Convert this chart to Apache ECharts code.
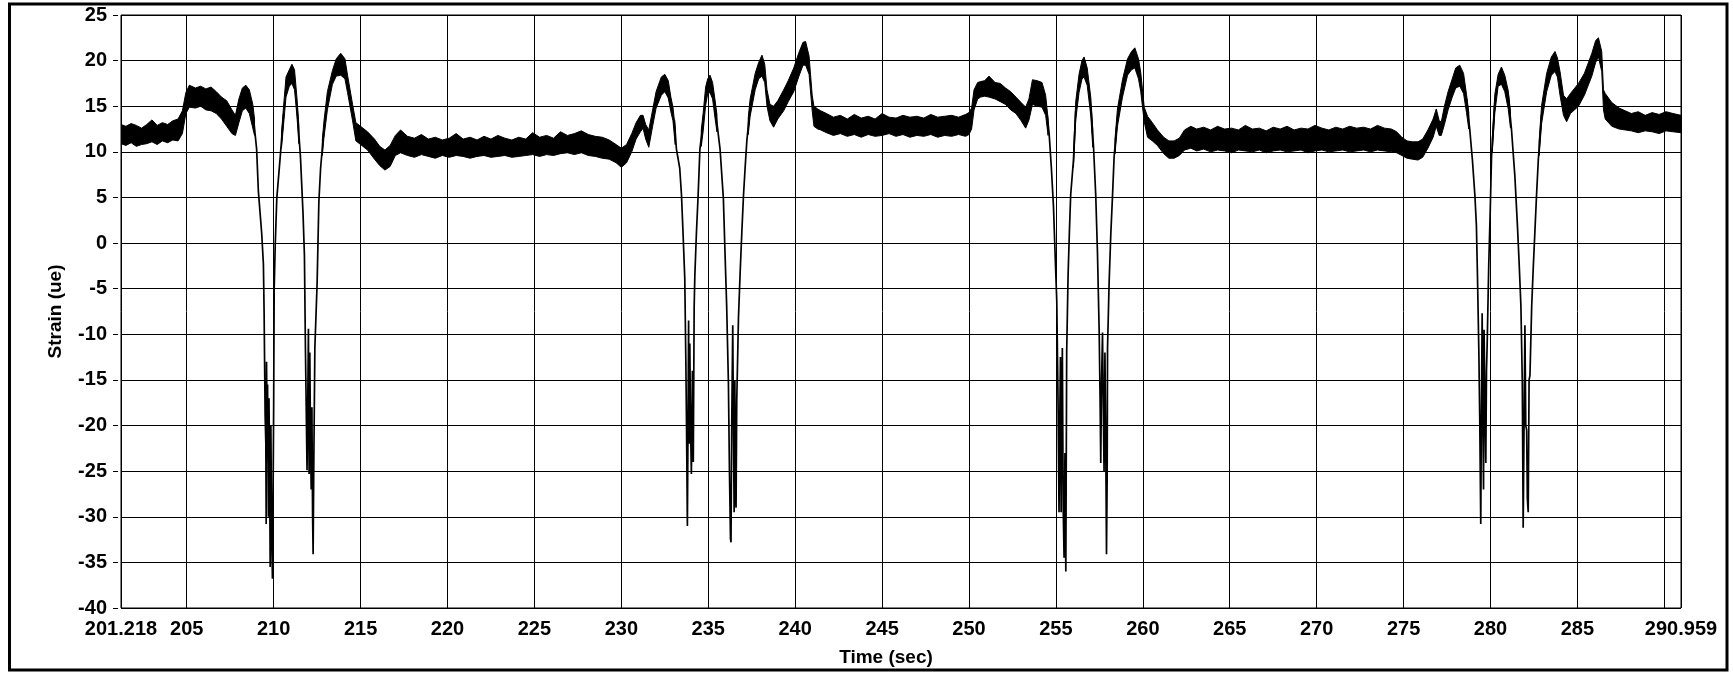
<!DOCTYPE html>
<html>
<head>
<meta charset="utf-8">
<script src="https://cdn.jsdelivr.net/npm/echarts/dist/echarts.min.js"></script>
<style>
html,body{margin:0;padding:0;background:#fff;}
#chart{width:1733px;height:673px;}
</style>
</head>
<body>
<div id="chart"></div>
<script>
// ---- tick labels ----
const xTickValues = [201.218, 205, 210, 215, 220, 225, 230, 235, 240, 245, 250, 255, 260, 265, 270, 275, 280, 285, 290, 290.959];
const yMin = -40, yMax = 25, yStep = 5;

// ---- noisy band envelope (time, upper, lower); null separates segments ----
const bandTime = [
201.218,201.5,201.8,202.1,202.4,202.7,203.0,203.3,203.6,203.9,204.2,204.5,204.75,204.95,205.15,205.5,205.8,206.1,206.4,206.7,207.0,207.3,207.6,207.8,208.0,208.2,208.4,208.6,208.8,208.9,
null,
210.45,210.57,210.71,210.9,211.05,211.2,211.34,211.45,
null,
212.8,212.89,213.09,213.38,213.6,213.86,214.1,214.25,214.54,214.73,215.0,215.4,215.8,216.1,216.4,216.7,217.0,217.3,217.7,218.1,218.5,218.9,219.3,219.7,220.1,220.5,220.9,221.3,221.7,222.1,222.5,222.9,223.3,223.7,224.1,224.5,224.9,225.3,225.7,226.1,226.5,226.9,227.3,227.7,228.1,228.5,228.9,229.3,229.7,230.0,230.3,230.6,230.85,231.1,231.25,231.4,231.58,231.8,232.0,232.3,232.5,232.7,232.85,232.97,233.1,
null,
234.6,234.71,234.85,234.97,235.1,235.25,235.39,235.5,
null,
237.3,237.41,237.7,237.9,238.09,238.25,238.38,238.55,238.76,239.0,239.34,239.6,239.92,240.2,240.45,240.6,240.8,240.98,241.08,241.3,241.47,241.8,242.2,242.6,243.0,243.4,243.8,244.2,244.6,245.0,245.4,245.8,246.2,246.6,247.0,247.4,247.8,248.2,248.6,249.0,249.4,249.8,250.0,250.15,250.29,250.5,250.67,250.9,251.15,251.5,251.8,252.1,252.4,252.7,253.0,253.26,253.45,253.65,253.93,254.2,254.41,254.55,
null,
256.01,256.14,256.33,256.5,256.62,256.8,257.01,257.12,
null,
258.4,258.54,258.83,259.12,259.35,259.54,259.75,259.88,260.08,260.27,260.55,260.84,261.2,261.5,261.8,262.1,262.4,262.76,263.1,263.5,263.9,264.3,264.7,265.1,265.5,265.9,266.3,266.7,267.1,267.5,267.9,268.3,268.7,269.1,269.5,269.9,270.3,270.7,271.1,271.5,271.9,272.3,272.7,273.1,273.5,273.9,274.3,274.6,274.9,275.2,275.5,275.83,276.1,276.4,276.7,276.88,277.05,277.17,277.35,277.56,277.8,278.0,278.23,278.45,278.62,278.75,
null,
280.1,280.25,280.44,280.63,280.82,281.02,281.15,
null,
282.8,282.94,283.23,283.5,283.71,283.85,284.0,284.2,284.38,284.6,285.06,285.4,285.83,286.05,286.21,286.4,286.5,286.6,286.98,287.4,287.75,288.1,288.5,288.9,289.3,289.7,290.1,290.5,290.959
];
const bandHigh = [
13.0,12.8,13.1,12.9,12.6,13.0,13.5,12.9,13.2,13.0,13.4,13.6,14.5,16.5,17.3,17.0,17.2,16.9,17.1,16.6,16.0,15.6,14.6,14.0,15.8,17.0,17.3,16.8,15.2,13.6,
null,
12.0,15.0,18.2,19.0,19.6,19.0,15.9,12.9,
null,
11.3,13.3,16.6,18.9,20.2,20.8,20.2,18.4,15.2,13.2,12.8,12.2,11.4,10.6,10.2,10.7,11.8,12.4,11.7,11.5,11.9,11.4,11.6,11.3,11.5,12.0,11.4,11.6,11.3,11.7,11.4,11.8,11.5,11.3,11.6,11.4,12.1,11.6,11.8,11.5,12.2,11.8,12.0,12.3,11.9,11.7,11.6,11.3,10.8,10.4,10.8,12.0,13.2,14.0,14.0,13.0,12.4,14.6,16.6,18.2,18.5,17.8,16.0,14.9,12.6,
null,
12.4,14.3,17.1,18.0,18.4,17.6,15.7,14.1,
null,
13.7,15.8,18.6,19.8,20.6,19.6,16.8,15.2,15.0,15.6,16.8,17.8,19.2,20.8,22.0,22.1,20.5,16.2,15.0,14.7,14.5,14.2,13.8,14.0,13.6,14.1,13.7,13.9,13.6,14.2,13.8,13.7,14.0,13.8,13.9,13.7,14.1,13.8,13.9,14.0,13.8,14.1,14.3,14.8,16.8,17.6,17.7,17.8,18.3,17.6,17.5,17.0,16.6,16.0,15.4,14.9,15.8,17.9,17.8,17.6,16.2,13.6,
null,
9.9,15.5,18.5,20.0,20.4,19.2,15.9,12.5,
null,
11.4,14.7,17.9,20.2,21.0,21.4,20.2,18.7,14.9,13.9,13.2,12.4,11.6,11.2,11.2,11.5,12.4,12.8,12.5,12.7,12.4,12.8,12.5,12.6,12.4,12.9,12.5,12.6,12.3,12.7,12.5,12.8,12.4,12.6,12.5,12.9,12.6,12.4,12.7,12.5,12.8,12.6,12.7,12.5,12.9,12.6,12.5,12.2,11.6,11.2,11.1,11.1,11.4,12.4,13.6,14.7,13.4,13.3,15.0,16.6,18.0,19.2,19.5,18.6,16.3,14.3,
null,
11.4,16.3,18.5,19.3,18.4,16.7,14.4,
null,
11.2,15.1,18.6,20.4,21.0,20.3,18.8,16.2,15.8,16.4,17.5,18.6,20.8,22.2,22.5,21.0,16.8,16.4,15.4,14.8,14.5,14.2,14.4,14.0,14.3,14.1,14.4,14.2,14.0
];
const bandLow = [
10.9,10.7,11.0,10.6,10.8,10.9,11.1,10.8,11.2,11.0,11.3,11.2,12.0,14.2,14.9,14.8,15.0,14.6,14.5,14.2,13.6,12.8,12.0,11.8,13.2,14.5,14.8,14.2,12.6,11.8,
null,
10.4,13.0,16.0,17.2,17.5,16.8,13.9,10.9,
null,
9.6,11.5,14.6,17.4,18.3,18.4,18.0,16.5,13.4,11.2,10.8,10.2,9.2,8.5,8.0,8.4,9.6,9.9,9.6,9.4,9.7,9.5,9.3,9.6,9.4,9.6,9.5,9.3,9.5,9.6,9.4,9.5,9.6,9.4,9.5,9.6,9.7,9.5,9.7,9.6,9.8,9.9,9.7,9.9,9.6,9.5,9.3,9.2,8.8,8.3,8.8,10.0,11.4,12.2,12.6,11.4,10.5,12.8,14.8,16.2,16.6,15.9,14.4,13.4,10.8,
null,
10.6,12.3,15.1,16.4,16.5,15.8,13.7,12.2,
null,
11.9,13.9,16.8,18.0,18.3,17.6,15.0,13.4,12.7,13.6,14.5,15.5,16.6,18.2,19.5,19.5,18.5,14.5,12.8,12.5,12.4,12.1,11.8,12.0,11.7,11.9,11.6,11.9,11.7,11.8,12.0,11.7,11.9,11.6,11.8,11.7,11.9,11.6,11.8,11.7,11.9,11.7,11.9,12.5,14.6,15.8,16.0,16.1,16.0,15.8,15.5,15.2,14.6,14.2,13.4,12.6,13.5,15.2,15.0,14.9,14.0,11.8,
null,
8.3,13.5,16.5,18.0,18.2,17.3,13.9,10.5,
null,
9.8,12.8,16.0,18.4,19.0,19.2,18.0,16.6,13.3,11.6,11.2,10.7,9.8,9.3,9.3,9.6,10.2,10.4,10.1,10.3,10.0,10.2,10.1,9.9,10.2,10.1,10.0,10.2,9.9,10.1,10.2,10.0,10.1,10.2,9.9,10.1,10.2,10.0,10.1,10.2,10.0,10.1,10.2,10.0,10.2,10.1,10.0,9.9,9.6,9.3,9.2,9.1,9.4,10.4,11.6,12.8,11.8,11.8,13.0,14.6,16.0,17.0,17.2,16.4,14.3,12.5,
null,
9.9,14.3,17.2,17.4,16.6,14.7,12.6,
null,
9.6,13.1,16.6,18.4,18.8,18.2,16.2,14.0,13.3,14.2,15.0,16.2,18.3,19.8,20.4,18.8,14.6,13.6,12.8,12.5,12.4,12.3,12.1,12.3,12.2,12.0,12.3,12.2,12.1
];

// ---- thin trace through the negative dips; null separates dips ----
const dipTime = [
208.85,208.93,209.02,209.12,209.31,209.41,209.45,209.51,209.55,209.57,209.59,209.62,209.65,209.70,209.73,209.77,209.80,209.84,209.88,209.93,209.96,210.00,210.03,210.09,210.18,210.38,210.57,
null,
211.34,211.54,211.69,211.77,211.83,211.92,211.96,212.00,212.04,212.08,212.12,212.16,212.20,212.24,212.27,212.31,212.37,212.50,212.60,212.70,212.89,
null,
233.05,233.17,233.36,233.46,233.55,233.65,233.71,233.75,233.80,233.83,233.87,233.90,233.94,233.98,234.03,234.09,234.14,234.19,234.23,234.32,234.42,234.52,234.71,
null,
235.39,235.68,235.87,235.97,236.06,236.16,236.22,236.28,236.31,236.35,236.41,236.45,236.49,236.53,236.57,236.60,236.64,236.74,236.83,236.93,237.03,237.12,237.22,237.41,
null,
254.50,254.61,254.74,254.86,254.95,255.05,255.12,255.18,255.22,255.26,255.30,255.34,255.37,255.42,255.47,255.52,255.57,255.62,255.70,255.78,255.85,256.01,256.14,
null,
257.01,257.16,257.29,257.39,257.49,257.54,257.58,257.62,257.68,257.72,257.77,257.82,257.86,257.91,257.95,257.97,258.06,258.16,258.25,258.35,258.54,
null,
278.62,278.81,278.96,279.10,279.19,279.25,279.33,279.38,279.44,279.48,279.52,279.56,279.60,279.63,279.68,279.73,279.77,279.81,279.90,279.98,280.06,280.25,
null,
281.02,281.21,281.40,281.56,281.65,281.75,281.83,281.88,281.93,281.98,282.03,282.08,282.12,282.17,282.22,282.27,282.37,282.46,282.56,282.65,282.75,282.94
];
const dipStrain = [
13.5,12.0,10.3,5.7,1.1,-2.3,-7.5,-19.0,-22.0,-30.8,-13.0,-19.5,-15.5,-30.0,-17.0,-25.0,-35.5,-20.0,-31.0,-36.8,-29.5,-18.0,-5.0,-0.2,4.9,9.5,14.1,
null,
14.9,9.5,3.2,-1.4,-11.9,-24.9,-18.0,-9.4,-25.3,-12.0,-22.0,-27.0,-18.0,-30.0,-34.1,-24.0,-11.5,-4.4,4.5,8.2,12.4,
null,
13.5,10.3,8.2,5.3,1.1,-3.9,-12.7,-19.9,-31.0,-22.0,-8.5,-22.0,-11.0,-19.9,-25.3,-14.0,-24.0,-7.0,-3.5,1.1,5.3,10.3,13.3,
null,
14.9,10.3,4.9,-1.4,-6.9,-15.3,-25.0,-32.4,-32.8,-20.0,-9.0,-20.3,-29.5,-15.0,-28.0,-29.0,-17.3,-8.1,-3.5,1.1,5.3,8.2,11.2,14.9,
null,
14.0,12.0,8.2,4.0,-1.0,-6.4,-16.9,-29.5,-20.0,-12.5,-29.5,-17.0,-11.5,-29.0,-34.5,-23.0,-36.0,-11.9,-3.5,1.5,5.3,9.1,14.5,
null,
14.9,10.7,5.3,-1.0,-9.8,-16.9,-24.1,-16.0,-9.8,-16.9,-25.0,-12.0,-20.0,-34.1,-25.3,-11.5,-4.4,1.1,4.9,9.5,13.7,
null,
15.8,12.4,9.1,5.3,1.9,-3.5,-11.9,-19.0,-30.8,-18.0,-7.7,-19.0,-27.0,-9.5,-17.0,-24.1,-14.0,-11.0,-2.3,3.2,9.5,15.4,
null,
16.2,12.4,7.4,1.5,-2.3,-6.9,-15.3,-31.2,-20.0,-9.0,-20.0,-20.5,-28.0,-29.5,-15.0,-14.5,-6.9,-2.7,1.5,5.3,9.1,14.1
];

// ---- build series data ----
const dipData = dipTime.map((t, i) => (t === null || dipStrain[i] === null) ? [NaN, '-'] : [t, dipStrain[i]]);
const bandAnchor = [];
for (let i = 0; i < bandTime.length; i++) if (bandTime[i] !== null) bandAnchor.push([bandTime[i], bandHigh[i]]);

const FONT = '"Liberation Sans", Arial, Helvetica, sans-serif';
const chart = echarts.init(document.getElementById('chart'), null, {renderer: 'canvas'});

chart.setOption({
  animation: false,
  backgroundColor: '#ffffff',
  textStyle: {fontFamily: FONT},
  grid: {left: 121, right: 52, top: 15, bottom: 65, show: true, borderColor: '#000', borderWidth: 1, backgroundColor: '#fff', containLabel: false, outerBoundsMode: 'none'},
  xAxis: {
    type: 'value', min: 201.218, max: 290.959, offset: 2,
    name: 'Time (sec)', nameLocation: 'middle', nameGap: 38,
    nameTextStyle: {color: '#000', fontWeight: 'bold', fontSize: 19, fontFamily: FONT, padding: [0, 30, 0, 0]},
    axisLine: {show: false},
    axisTick: {show: true, length: 6, customValues: xTickValues, lineStyle: {color: '#000', width: 1}},
    axisLabel: {customValues: xTickValues, color: '#000', fontWeight: 'bold', fontSize: 20, fontFamily: FONT, margin: 9,
      hideOverlap: false, showMinLabel: true, showMaxLabel: true, formatter: v => String(v)},
    splitLine: {show: true, lineStyle: {color: '#000', width: 1}}
  },
  yAxis: {
    type: 'value', min: yMin, max: yMax, interval: yStep, offset: 3,
    name: 'Strain (ue)', nameLocation: 'middle', nameGap: 53,
    nameTextStyle: {color: '#000', fontWeight: 'bold', fontSize: 19, fontFamily: FONT},
    axisLine: {show: false},
    axisTick: {show: true, length: 5, lineStyle: {color: '#000', width: 1}},
    axisLabel: {color: '#000', fontWeight: 'bold', fontSize: 20, fontFamily: FONT, margin: 11, showMinLabel: true, showMaxLabel: true},
    splitLine: {show: true, lineStyle: {color: '#000', width: 1}}
  },
  graphic: [{
    type: 'rect', z: 100, silent: true,
    shape: {x: 9.5, y: 4, width: 1717.5, height: 666},
    style: {fill: 'none', stroke: '#000', lineWidth: 3}
  }],
  series: [
    {
      type: 'custom', coordinateSystem: 'cartesian2d', clip: true, silent: true,
      data: [bandAnchor[0]],
      encode: {x: 0, y: 1},
      renderItem: function (params, api) {
        const children = [];
        let up = [], lo = [];
        const flush = () => {
          if (up.length) {
            children.push({type: 'polygon', shape: {points: up.concat(lo.slice().reverse())},
              style: {fill: '#000', stroke: '#000', lineWidth: 1}});
          }
          up = []; lo = [];
        };
        for (let i = 0; i < bandTime.length; i++) {
          if (bandTime[i] === null) { flush(); continue; }
          up.push(api.coord([bandTime[i], bandHigh[i]]));
          lo.push(api.coord([bandTime[i], bandLow[i]]));
        }
        flush();
        return {type: 'group', children: children};
      }
    },
    {
      type: 'line', data: dipData, showSymbol: false, symbol: 'none', connectNulls: false,
      clip: true, silent: true, sampling: null,
      lineStyle: {color: '#000', width: 1.7}
    }
  ]
});
</script>
</body>
</html>
